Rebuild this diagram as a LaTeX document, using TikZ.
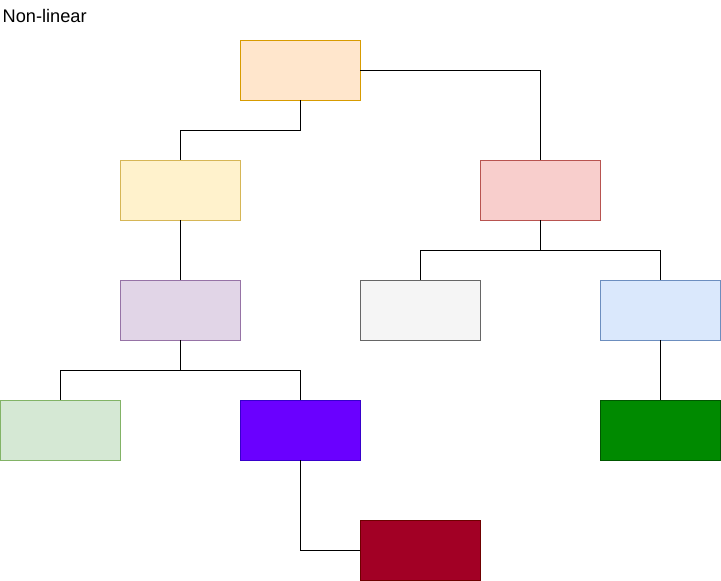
\documentclass[tikz,border=0pt]{standalone}
\usepackage{fontspec}
\setmainfont{Liberation Sans}

\definecolor{peachF}{HTML}{FFE6CC}\definecolor{peachD}{HTML}{D79B00}
\definecolor{yellowF}{HTML}{FFF2CC}\definecolor{yellowD}{HTML}{D6B656}
\definecolor{redF}{HTML}{F8CECC}\definecolor{redD}{HTML}{B85450}
\definecolor{purpleF}{HTML}{E1D5E7}\definecolor{purpleD}{HTML}{9673A6}
\definecolor{greyF}{HTML}{F5F5F5}\definecolor{greyD}{HTML}{666666}
\definecolor{blueF}{HTML}{DAE8FC}\definecolor{blueD}{HTML}{6C8EBF}
\definecolor{lgreenF}{HTML}{D5E8D4}\definecolor{lgreenD}{HTML}{82B366}
\definecolor{violetF}{HTML}{6A00FF}\definecolor{violetD}{HTML}{3700CC}
\definecolor{dgreenF}{HTML}{008A00}\definecolor{dgreenD}{HTML}{005700}
\definecolor{dredF}{HTML}{A20025}\definecolor{dredD}{HTML}{6F0000}

\tikzset{
  box/.style={draw=#1D, fill=#1F, line width=1pt, minimum width=120pt,
    minimum height=60pt, inner sep=0pt, outer sep=0pt},
  link/.style={draw=black, line width=1pt}
}

\begin{document}
\begin{tikzpicture}[x=1pt, y=-1pt]

        % Canvas
        \useasboundingbox (0,0) rectangle (721,581);

        % Title
        \node[anchor=base west, inner sep=0pt, font=\fontsize{18.2}{22}\selectfont] (title) at (2.5,22) {Non-linear};

        % Level 1
        \node[box=peach] (root) at (300,70) {};

        % Level 2
        \node[box=yellow] (left) at (180,190) {};
        \node[box=red] (right) at (540,190) {};

        % Level 3
        \node[box=purple] (leftmid) at (180,310) {};
        \node[box=grey] (rightA) at (420,310) {};
        \node[box=blue] (rightB) at (660,310) {};

        % Level 4
        \node[box=lgreen] (leafA) at (60,430) {};
        \node[box=violet] (leafB) at (300,430) {};
        \node[box=dgreen] (leafC) at (660,430) {};

        % Level 5
        \node[box=dred] (tail) at (420,550) {};

        % Connectors
        \draw[link] (root.south) -- ++(0,30) -| (left.north);
        \draw[link] (root.east) -| (right.north);
        \draw[link] (left.south) -- (leftmid.north);
        \draw[link] (right.south) -- ++(0,30) -| (rightA.north);
        \draw[link] (right.south) -- ++(0,30) -| (rightB.north);
        \draw[link] (leftmid.south) -- ++(0,30) -| (leafA.north);
        \draw[link] (leftmid.south) -- ++(0,30) -| (leafB.north);
        \draw[link] (rightB.south) -- (leafC.north);
        \draw[link] (leafB.south) |- (tail.west);

    \end{tikzpicture}
\end{document}
